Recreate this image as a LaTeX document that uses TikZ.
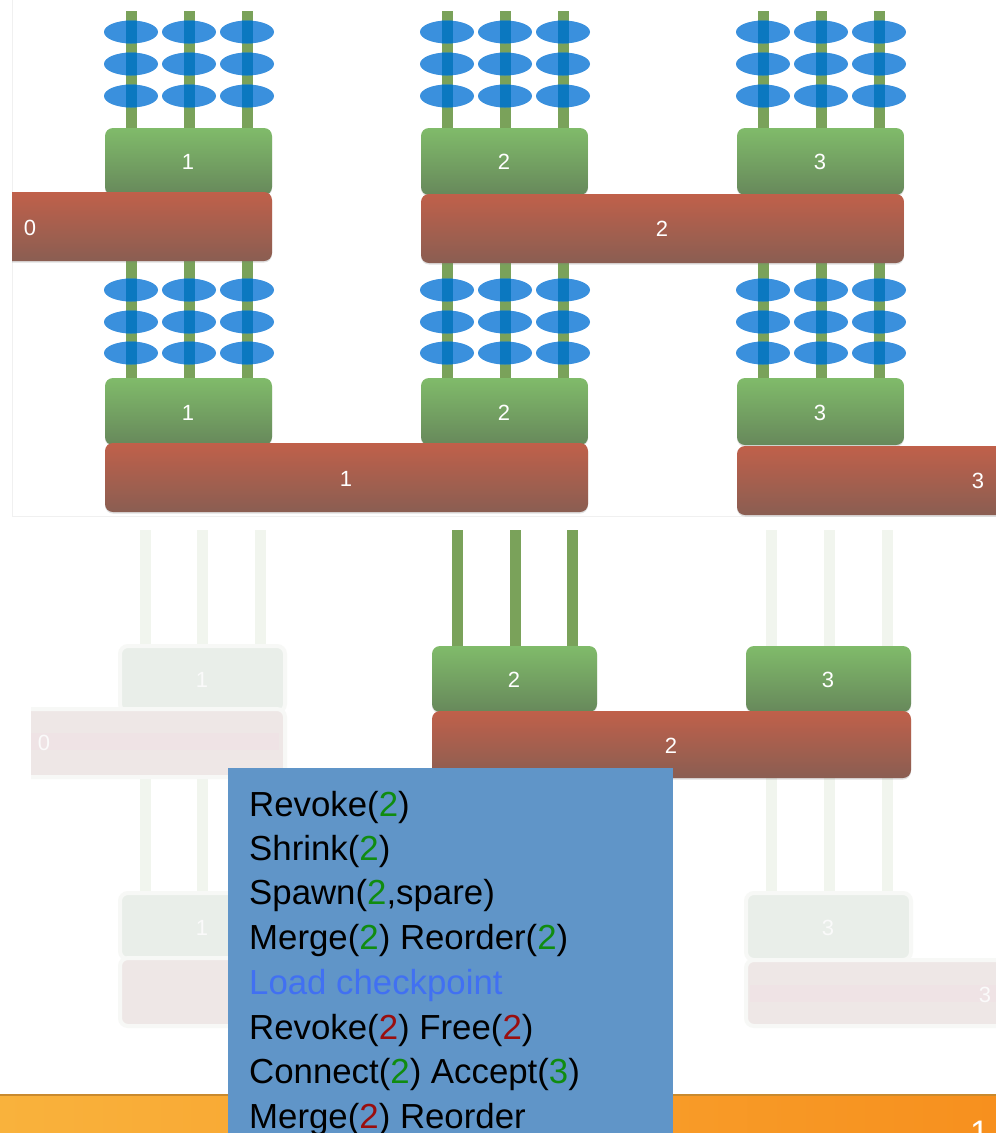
\documentclass[tikz,border=0pt]{standalone}
\usepackage{fontspec}
\setmainfont{Liberation Sans}
\usetikzlibrary{shadows}

\definecolor{stickgreen}{HTML}{7AA25A}
\definecolor{beadblue}{HTML}{3A90DD}
\definecolor{beadcore}{HTML}{0B78C0}
\definecolor{boxtop}{HTML}{80BB6A}
\definecolor{boxbot}{HTML}{67885B}
\definecolor{bartop}{HTML}{C0604A}
\definecolor{barbot}{HTML}{8A5E52}
\definecolor{fadegreen}{HTML}{E9EEE9}
\definecolor{fadered}{HTML}{EEE7E6}
\definecolor{fadeband}{HTML}{EFE3E5}
\definecolor{fadestick}{HTML}{F1F5EE}
\definecolor{fadehalo}{HTML}{F7F8F6}
\definecolor{panelblue}{HTML}{6095C8}
\definecolor{numgreen}{HTML}{108C10}
\definecolor{numred}{HTML}{9A0E0E}
\definecolor{loadblue}{HTML}{4170F2}
\definecolor{orangeL}{HTML}{F9B23C}
\definecolor{orangeR}{HTML}{F7901E}
\definecolor{orangeline}{HTML}{C98A2E}
\definecolor{panelline}{HTML}{F0F0F0}

\tikzset{
  procbox/.style={rounded corners=8pt, top color=boxtop, bottom color=boxbot,
    drop shadow={opacity=0.25, shadow xshift=0pt, shadow yshift=-1.5pt}},
  commbar/.style={rounded corners=8pt, top color=bartop, bottom color=barbot,
    drop shadow={opacity=0.25, shadow xshift=0pt, shadow yshift=-1.5pt}},
  fadebox/.style={rounded corners=8pt, fill=fadegreen, draw=fadehalo, line width=4pt},
  fadebar/.style={rounded corners=8pt, fill=fadered, draw=fadehalo, line width=4pt},
  numlabel/.style={text=white, font=\fontsize{22}{24}\selectfont, inner sep=0pt},
  fadelabel/.style={text=white!96!gray, font=\fontsize{22}{24}\selectfont, inner sep=0pt},
  opline/.style={anchor=base west, inner sep=0pt, text=black,
    font=\fontsize{34.8}{40}\selectfont},
}

% three sticks of one process
\newcommand{\mysticks}[4]{% #1 x list, #2 top, #3 bottom, #4 colour
  \foreach \sx in {#1} {\fill[#4] (\sx-5.5,#2) rectangle (\sx+5.5,#3);}}
% beads threaded on the sticks
\newcommand{\mybeads}[2]{% #1 x list, #2 y list
  \foreach \sx in {#1} {\foreach \by in {#2} {
    \fill[beadblue] (\sx,\by) ellipse (27 and 11.5);
    \begin{scope}
      \clip (\sx,\by) ellipse (27 and 11.5);
      \fill[beadcore] (\sx-5.5,\by-12) rectangle (\sx+5.5,\by+12);
    \end{scope}}}}

\begin{document}
\begin{tikzpicture}[x=1pt,y=-1pt]
\useasboundingbox (0,0) rectangle (996,1133);
\fill[white] (0,0) rectangle (996,1133);

% ---------- upper diagram ----------
\draw[panelline] (12,0) -- (12,516) -- (996,516);
\begin{scope}
\clip (12,0) rectangle (996,516);
% top row of processes
\mysticks{131,189,247}{11}{130}{stickgreen}
\mysticks{447,505,563}{11}{130}{stickgreen}
\mysticks{763,821,879}{11}{130}{stickgreen}
\mybeads{131,189,247,447,505,563,763,821,879}{32,64,96}
% second row sticks
\mysticks{131,189,247}{258}{380}{stickgreen}
\mysticks{447,505,563}{258}{380}{stickgreen}
\mysticks{763,821,879}{258}{380}{stickgreen}
\mybeads{131,189,247,447,505,563,763,821,879}{290,322,353}

\path[procbox] (105,128) rectangle (272,195);
\path[procbox] (421,128) rectangle (588,195);
\path[procbox] (737,128) rectangle (904,195);
\node[numlabel] (pa1) at (188,162) {1};
\node[numlabel] (pa2) at (504,162) {2};
\node[numlabel] (pa3) at (820,162) {3};

\path[commbar] (0,192) rectangle (272,261);
\path[commbar] (421,194) rectangle (904,263);
\node[numlabel] (ca0) at (30,228) {0};
\node[numlabel] (ca2) at (662,229) {2};

\path[procbox] (105,378) rectangle (272,445);
\path[procbox] (421,378) rectangle (588,445);
\path[procbox] (737,378) rectangle (904,445);
\node[numlabel] (pb1) at (188,413) {1};
\node[numlabel] (pb2) at (504,413) {2};
\node[numlabel] (pb3) at (820,413) {3};

\path[commbar] (105,443) rectangle (588,512);
\path[commbar] (737,446) rectangle (1020,515);
\node[numlabel] (cb1) at (346,479) {1};
\node[numlabel] (cb3) at (978,481) {3};
\end{scope}

% ---------- lower diagram ----------
\begin{scope}
\clip (31,528) rectangle (996,1032);
\mysticks{145,202,260}{530}{646}{fadestick}
\mysticks{771,829,887}{530}{646}{fadestick}
\mysticks{457,515,572}{530}{648}{stickgreen}
\mysticks{145,202,260}{778}{893}{fadestick}
\mysticks{771,829,887}{778}{893}{fadestick}

\path[fadebox] (120,646) rectangle (285,712);
\node[fadelabel] (pc1) at (202,680) {1};
\path[fadebar] (10,709) rectangle (285,777);
\fill[fadeband] (31,733) rectangle (279,750);
\node[fadelabel] (cc0) at (44,743) {0};

\path[procbox] (432,646) rectangle (597,712);
\path[procbox] (746,646) rectangle (911,712);
\node[numlabel] (pc2) at (514,680) {2};
\node[numlabel] (pc3) at (828,680) {3};
\path[commbar] (432,711) rectangle (911,778);
\node[numlabel] (cc2) at (671,746) {2};

\path[fadebox] (120,893) rectangle (285,959);
\node[fadelabel] (pd1) at (202,928) {1};
\path[fadebar] (120,958) rectangle (600,1026);
\path[fadebox] (746,893) rectangle (911,960);
\node[fadelabel] (pd3) at (828,928) {3};
\path[fadebar] (746,960) rectangle (1020,1026);
\fill[fadeband] (750,985) rectangle (996,1002);
\node[fadelabel] (cd3) at (985,995) {3};
\end{scope}

% ---------- footer ----------
\shade[left color=orangeL, right color=orangeR] (0,1094) rectangle (996,1133);
\draw[orangeline, line width=2pt] (0,1095) -- (996,1095);
\begin{scope}
\clip (0,1094) rectangle (996,1133);
\node[anchor=north west, inner sep=0pt, text=white,
  font=\fontsize{34}{40}\selectfont] (pgno) at (970,1121) {1};
\end{scope}

% ---------- operation list ----------
\fill[panelblue] (228,768) rectangle (673,1140);
\node[opline] (op1) at (249,816) {Revoke(\textcolor{numgreen}{2})};
\node[opline] (op2) at (249,860) {Shrink(\textcolor{numgreen}{2})};
\node[opline] (op3) at (249,904) {Spawn(\textcolor{numgreen}{2},spare)};
\node[opline] (op4) at (249,949) {Merge(\textcolor{numgreen}{2}) Reorder(\textcolor{numgreen}{2})};
\node[opline, text=loadblue] (op5) at (249,994) {Load checkpoint};
\node[opline] (op6) at (249,1039) {Revoke(\textcolor{numred}{2}) Free(\textcolor{numred}{2})};
\node[opline] (op7) at (249,1083) {Connect(\textcolor{numgreen}{2}) Accept(\textcolor{numgreen}{3})};
\node[opline] (op8) at (249,1128) {Merge(\textcolor{numred}{2}) Reorder};
\end{tikzpicture}
\end{document}
